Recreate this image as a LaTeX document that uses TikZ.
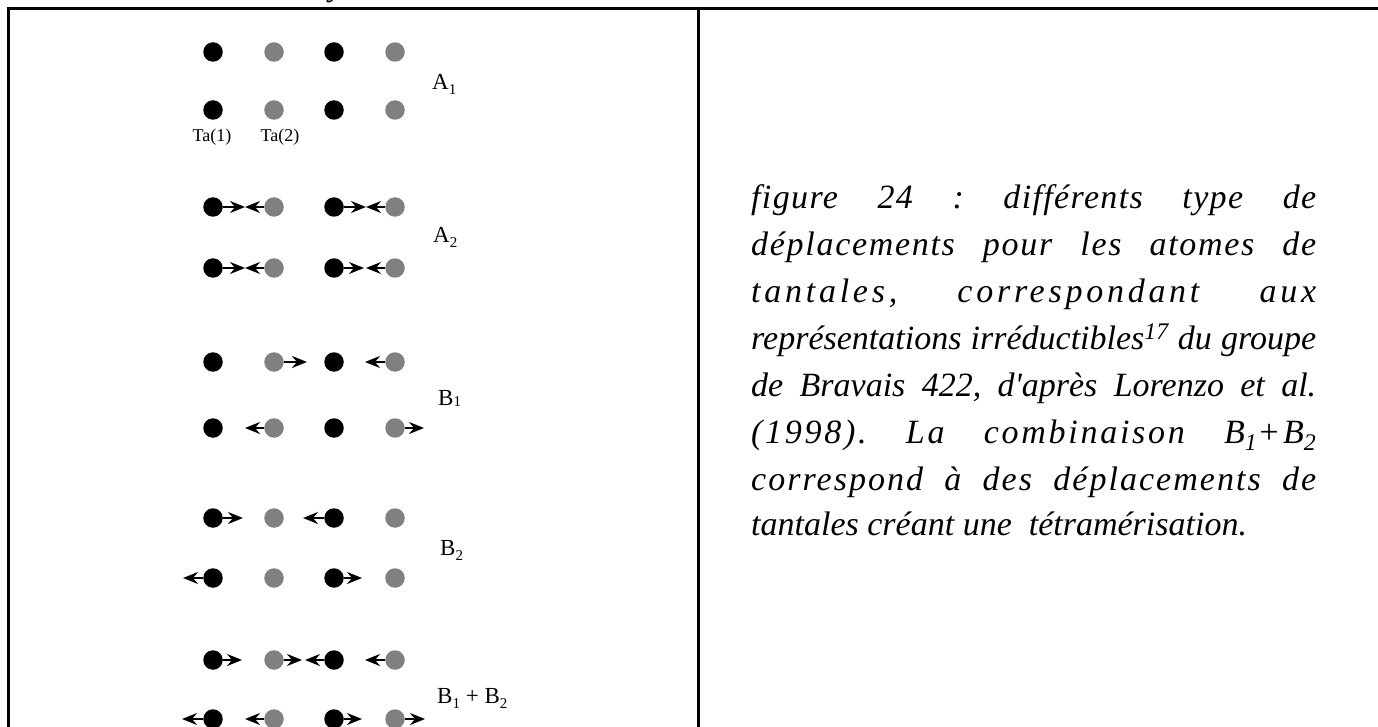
\documentclass[tikz,border=0pt]{standalone}
\usepackage{fontspec}
\setmainfont{Liberation Serif}[Ligatures=TeXOff]
\usetikzlibrary{arrows.meta}
\definecolor{atomgray}{RGB}{128,128,128}
\newcommand{\capfnt}{\frenchspacing\itshape\fontsize{34}{40}\selectfont}
\newcommand{\labsub}[2]{\raisebox{#1}{\fontsize{15}{15}\selectfont #2}}
\begin{document}
\begin{tikzpicture}[x=1pt,y=-1pt,
  blk/.style={circle,fill=black,inner sep=0pt,minimum size=19.5pt},
  gry/.style={circle,fill=atomgray,inner sep=0pt,minimum size=19.5pt},
  arr/.style={line width=2.2pt,-{Stealth[length=15pt,width=12pt,inset=5pt]}},
  border/.style={line width=3pt},
  lab/.style={anchor=base west,inner sep=0pt,font=\fontsize{23}{26}\selectfont},
  talab/.style={anchor=center,inner sep=0pt,font=\fontsize{18}{20}\selectfont},
  capline/.style={anchor=base west,inner sep=0pt,font=\capfnt}]
\useasboundingbox (0,0) rectangle (1378,727);
% table borders
\draw[border] (8,735) -- (8,9) -- (1385,9);
\draw[border] (698,9) -- (698,735);
% cut-off text above
\node[anchor=base,inner sep=0pt,font=\capfnt] (ytop) at (337,-4) {y};
% atoms
\foreach \r/\y in {1/52,2/110,3/207,4/268,5/362,6/428,7/518,8/578,9/660,10/719}{
  \node[blk] (n\r-1) at (213,\y) {};
  \node[gry] (n\r-2) at (274,\y) {};
  \node[blk] (n\r-3) at (334,\y) {};
  \node[gry] (n\r-4) at (395,\y) {};
}
% displacement arrows
\foreach \r/\c/\d in {3/1/32,3/2/-29,3/3/32,3/4/-29,
                      4/1/32,4/2/-29,4/3/30,4/4/-29,
                      5/2/33,5/4/-30,6/2/-29,6/4/29,
                      7/1/30,7/3/-31,8/1/-30,8/3/28,
                      9/1/29,9/2/28,9/3/-29,9/4/-30,
                      10/1/-31,10/2/-29,10/3/28,10/4/30}{
  \path (n\r-\c) ++(\d,0) coordinate (t\r-\c);
  \draw[arr] (n\r-\c) -- (t\r-\c);
}
% labels
\node[talab] (ta1) at (212,137) {Ta(1)};
\node[talab] (ta2) at (280,137) {Ta(2)};
\node[lab] (la1) at (432,90) {A\labsub{-5pt}{1}};
\node[lab] (la2) at (433,243) {A\labsub{-5pt}{2}};
\node[lab] (lb1) at (438,405) {B\labsub{-1pt}{1}};
\node[lab] (lb2) at (440,555) {B\labsub{-5pt}{2}};
\node[lab] (lb12) at (437,703) {B\labsub{-5pt}{1} + B\labsub{-5pt}{2}};
% caption
\node[capline] (c1) at (751,209) {\makebox[565pt][s]{\addfontfeature{LetterSpace=4}figure 24 : différents type de}};
\node[capline] (c2) at (751,255) {\makebox[565pt][s]{\addfontfeature{LetterSpace=5}déplacements pour les atomes de}};
\node[capline] (c3) at (751,302) {\makebox[565pt][s]{\addfontfeature{LetterSpace=11}tantales, correspondant aux}};
\node[capline] (c4) at (751,349) {\makebox[565pt][s]{représentations irréductibles\textsuperscript{17} du groupe}};
\node[capline] (c5) at (751,396) {\makebox[565pt][s]{de Bravais 422, d'après Lorenzo et al.}};
\node[capline] (c6) at (751,443) {\makebox[565pt][s]{\addfontfeature{LetterSpace=8}(1998). La combinaison B\textsubscript{1}+B\textsubscript{2}}};
\node[capline] (c7) at (751,490) {\makebox[565pt][s]{\addfontfeature{LetterSpace=6}correspond à des déplacements de}};
\node[capline] (c8) at (751,535) {tantales créant une~ tétramérisation.};
\end{tikzpicture}
\end{document}
